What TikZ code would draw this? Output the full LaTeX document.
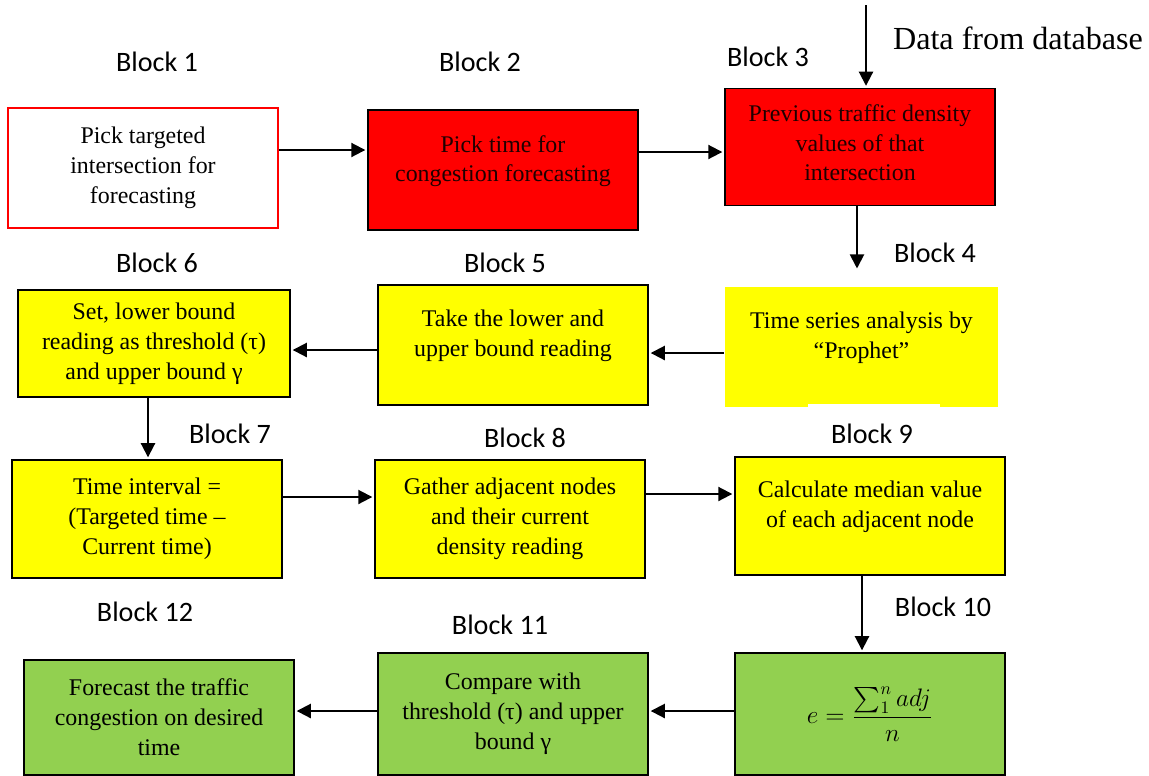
\documentclass[tikz,border=0pt]{standalone}
\usepackage{amsmath}
\usepackage{fontspec}
\setmainfont{Liberation Serif}
\newfontfamily\blockfont{Carlito}
\usepackage{tikz}
\usetikzlibrary{arrows.meta, positioning, calc}

\definecolor{boxred}{HTML}{FF0000}
\definecolor{boxyellow}{HTML}{FFFF00}
\definecolor{boxgreen}{HTML}{92D050}
\definecolor{darktext}{rgb}{0.12,0,0}

\begin{document}
\begin{tikzpicture}[
  x=0.02cm, y=-0.02cm,
  every node/.style={font=\fontsize{13.6}{17}\selectfont},
  box/.style={rectangle, draw=black, line width=1.1pt, inner sep=2pt,
              minimum width=5.4cm, minimum height=2.4cm, align=center},
  redbox/.style={box, fill=boxred, text=darktext},
  yelbox/.style={box, fill=boxyellow},
  grnbox/.style={box, fill=boxgreen},
  blk/.style={font=\blockfont\fontsize{16}{19}\selectfont},
  arr/.style={-{Triangle[length=8pt, width=8pt]}, line width=1.1pt, shorten >=1pt},
]
  \useasboundingbox (0,0) rectangle (1149,775);

  % Row 1
  \node[box, draw=boxred, line width=1.4pt] (b1) at (143,168) {Pick targeted\\intersection for\\forecasting};
  \node[redbox] (b2) at (503,170) {Pick time for\\congestion forecasting\\[-4pt]\mbox{}};
  \node[redbox, minimum height=2.34cm] (b3) at (860,147) {Previous traffic density\\values of that\\intersection\\[-12pt]\mbox{}};

  % Row 2
  \node[yelbox, draw=none, minimum width=5.46cm] (b4) at (861.5,347) {Time series analysis by\\“Prophet”\\[-4pt]\mbox{}};
  \fill[white] (808,403.5) rectangle (940,409);
  \node[yelbox] (b5) at (513,345) {Take the lower and\\upper bound reading\\[-4pt]\mbox{}};
  \node[yelbox, minimum width=5.44cm, minimum height=2.14cm] (b6) at (154,343.5) {Set, lower bound\\reading as threshold (τ)\\and upper bound γ};

  % Row 3
  \node[yelbox, minimum height=2.36cm] (b7) at (147,519) {Time interval =\\(Targeted time –\\Current time)};
  \node[yelbox, minimum height=2.36cm] (b8) at (510,519) {Gather adjacent nodes\\and their current\\density reading};
  \node[yelbox, minimum height=2.36cm] (b9) at (870,516) {Calculate median value\\of each adjacent node\\[-4pt]\mbox{}};

  % Row 4
  \node[grnbox, minimum height=2.44cm] (b10) at (870,714) {$e=\dfrac{\sum_1^n adj}{n}$};
  \node[grnbox, minimum height=2.44cm] (b11) at (513,714) {Compare with\\threshold (τ) and upper\\bound γ};
  \node[grnbox, minimum height=2.3cm] (b12) at (159,717.5) {Forecast the traffic\\congestion on desired\\time};

  % Block labels
  \node[blk] (l1) at (157,62) {Block 1};
  \node[blk] (l2) at (480,62) {Block 2};
  \node[blk] (l3) at (768,57) {Block 3};
  \node[blk] (l4) at (935,253) {Block 4};
  \node[blk] (l5) at (505,263) {Block 5};
  \node[blk] (l6) at (157,263) {Block 6};
  \node[blk] (l7) at (230,434) {Block 7};
  \node[blk] (l8) at (525,438) {Block 8};
  \node[blk] (l9) at (872,434) {Block 9};
  \node[blk] (l10) at (943,607) {Block 10};
  \node[blk] (l11) at (500,625) {Block 11};
  \node[blk] (l12) at (145,612) {Block 12};

  \node[font=\fontsize{18.3}{21}\selectfont] (db) at (1018,38) {Data from database};
  \coordinate (src) at (866,5);

  % Arrows
  \draw[arr] (src) -- (src |- b3.north);
  \draw[arr] (b1.east |- 0,150) -- (b2.west |- 0,150);
  \draw[arr] (b2.east |- 0,152) -- (b3.west |- 0,152);
  \draw[arr, shorten >=10pt] (b3.south -| 857,0) -- (b4.north -| 857,0);
  \draw[arr] (b4.west |- 0,353) -- (b5.east |- 0,353);
  \draw[arr] (b5.west |- 0,350) -- (b6.east |- 0,350);
  \draw[arr] (b6.south -| 148,0) -- (b7.north -| 148,0);
  \draw[arr] (b7.east |- 0,497) -- (b8.west |- 0,497);
  \draw[arr] (b8.east |- 0,494) -- (b9.west |- 0,494);
  \draw[arr] (b9.south -| 862,0) -- (b10.north -| 862,0);
  \draw[arr] (b10.west |- 0,711) -- (b11.east |- 0,711);
  \draw[arr] (b11.west |- 0,711) -- (b12.east |- 0,711);
\end{tikzpicture}
\end{document}
